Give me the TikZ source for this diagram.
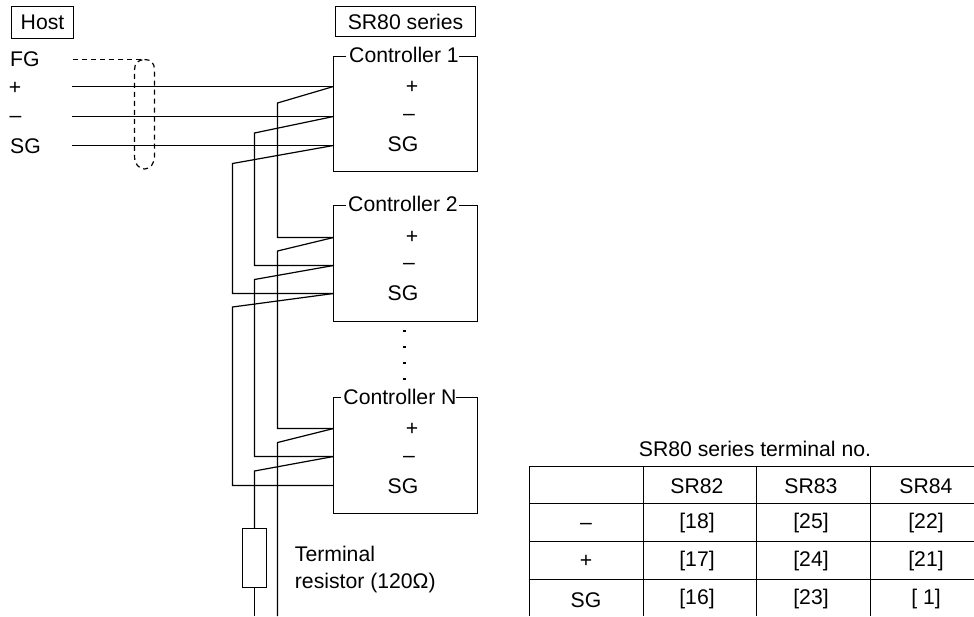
\documentclass[tikz,border=0pt]{standalone}
\usepackage{fontspec}
\setmainfont{Liberation Sans}
\tikzset{
  wire/.style={draw=black,line width=1.2pt,line join=miter},
  frame/.style={draw=black,line width=1.2pt,inner sep=0pt,outer sep=0pt},
  lbl/.style={inner sep=0pt,font=\fontsize{21.2}{24}\selectfont},
  lleft/.style={lbl,anchor=west},
  shield/.style={draw=black,line width=1.2pt,dash pattern=on 5pt off 4pt},
  dotmark/.style={fill=black,inner sep=0pt,minimum size=2.6pt,rectangle},
  res/.style={draw=black,line width=1.2pt,minimum width=24pt,minimum height=59pt,inner sep=0pt,outer sep=0pt},
}
\begin{document}
\begin{tikzpicture}[x=1pt,y=-1pt]
\useasboundingbox (0,0) rectangle (974,616);
\clip (0,0) rectangle (974,616);
% header boxes
\node[frame,lbl,draw,minimum width=62pt,minimum height=32pt] (host) at (42.5,22.5) {Host};
\node[frame,lbl,draw,minimum width=140pt,minimum height=30pt] (series) at (405.5,21.5) {SR80 series};
% host labels
\node[lleft] (fg) at (10,59) {FG};
\node[lbl] (hp) at (15,88.5) {+};
\node[lbl] (hm) at (15.5,119.5) {–};
\node[lleft] (hs) at (10,146) {SG};
\coordinate (fgs) at (73,59.5);
\coordinate (fge) at (145,59.5);
\coordinate (hpw) at (72,86.5);
\coordinate (hmw) at (72,116.5);
\coordinate (hsw) at (72,145.5);
% controller terminals
\coordinate (c1p) at (333.5,86.5);
\coordinate (c1m) at (333.5,116.5);
\coordinate (c1s) at (333.5,145.5);
\coordinate (c2p) at (333.5,237.5);
\coordinate (c2m) at (333.5,265.5);
\coordinate (c2s) at (333.5,293.5);
\coordinate (cnp) at (333.5,428.5);
\coordinate (cnm) at (333.5,456.5);
\coordinate (cns) at (333.5,485.5);
% controller 1
\node[lbl] (c1) at (404,55) {Controller 1};
\draw[wire] (c1.west) ++(-3,1.5) -| (333.5,171.5) -| (477.5,56.5) -- (459,56.5);
\node[lbl] at (412,87.5) {+};
\node[lbl] at (409,117.5) {–};
\node[lbl] at (403,144) {SG};
% controller 2
\node[lbl] (c2) at (403,204) {Controller 2};
\draw[wire] (c2.west) ++(-2,1.5) -| (333.5,321.5) -| (477.5,205.5) -- (459,205.5);
\node[lbl] at (412,237.5) {+};
\node[lbl] at (409,266.5) {–};
\node[lbl] at (403,293) {SG};
% dots
\node[dotmark] (d1) at (404.3,331) {};
\node[dotmark] (d2) at (404.3,347) {};
\node[dotmark] (d3) at (404.3,363) {};
\node[dotmark] (d4) at (404.3,379) {};
% controller N
\node[lbl] (cn) at (400,397) {Controller N};
\draw[wire] (cn.west) ++(-2,.5) -| (333.5,513.5) -| (477.5,397.5) -- (456,397.5);
\node[lbl] at (412,429.5) {+};
\node[lbl] at (409,459.5) {–};
\node[lbl] at (403,486) {SG};
% host wiring
\draw[shield] (fgs) -- (fge);
\draw[wire] (hpw) -- (c1p);
\draw[wire] (hmw) -- (c1m);
\draw[wire] (hsw) -- (c1s);
\draw[shield] (144.5,59.5) .. controls (151,59.5) and (154.5,63) .. (154.5,70) -- (154.5,156) .. controls (154.5,164) and (150,169) .. (144.5,169) .. controls (139,169) and (134.5,164) .. (134.5,156) -- (134.5,70) .. controls (134.5,63) and (138,60) .. (144.5,59.5);
% daisy chain
\draw[wire] (c1p) -- (277.5,103) |- (c2p);
\draw[wire] (c1m) -- (254.5,133) |- (c2m);
\draw[wire] (c1s) -- (232.5,163.5) |- (c2s);
\draw[wire] (c2p) -- (277.5,251) |- (cnp);
\draw[wire] (c2m) -- (254.5,279.5) |- (cnm);
\draw[wire] (c2s) -- (232.5,307) |- (cns);
\coordinate (endp) at (277.5,616);
\coordinate (endm) at (254.5,616);
\draw[wire] (cnp) -- (277.5,442.5) -- (endp);
\node[res] (rt) at (254.5,558) {};
\draw[wire] (cnm) -- (254.5,471) -- (rt.north);
\draw[wire] (rt.south) -- (endm);
\node[lleft] (t1) at (294.7,554) {Terminal};
\node[lleft] (t2) at (294.7,583) {resistor (120Ω)};
% table
\node[lbl] (title) at (755,449) {SR80 series terminal no.};
\coordinate (tl) at (529.5,466.5);
\draw[wire] (974,466.5) -- (tl) -- (529.5,616);
\draw[wire] (529.5,503.5) -- (974,503.5);
\draw[wire] (529.5,541.5) -- (974,541.5);
\draw[wire] (529.5,579.5) -- (974,579.5);
\draw[wire] (643.5,466.5) -- (643.5,616);
\draw[wire] (756.5,466.5) -- (756.5,616);
\draw[wire] (870.5,466.5) -- (870.5,616);
\node[lbl] at (697,486) {SR82};
\node[lbl] at (811,486) {SR83};
\node[lbl] at (926,486) {SR84};
\node[lbl] at (586,526.5) {–};
\node[lbl] at (697,522.7) {[18]};
\node[lbl] at (811,522.7) {[25]};
\node[lbl] at (926,522.7) {[22]};
\node[lbl] at (586,561.5) {+};
\node[lbl] at (697,560.7) {[17]};
\node[lbl] at (811,560.7) {[24]};
\node[lbl] at (926,560.7) {[21]};
\node[lbl] at (586,600) {SG};
\node[lbl] at (697,599) {[16]};
\node[lbl] at (811,599) {[23]};
\node[lbl] at (926,599) {[ 1]};
\end{tikzpicture}
\end{document}
